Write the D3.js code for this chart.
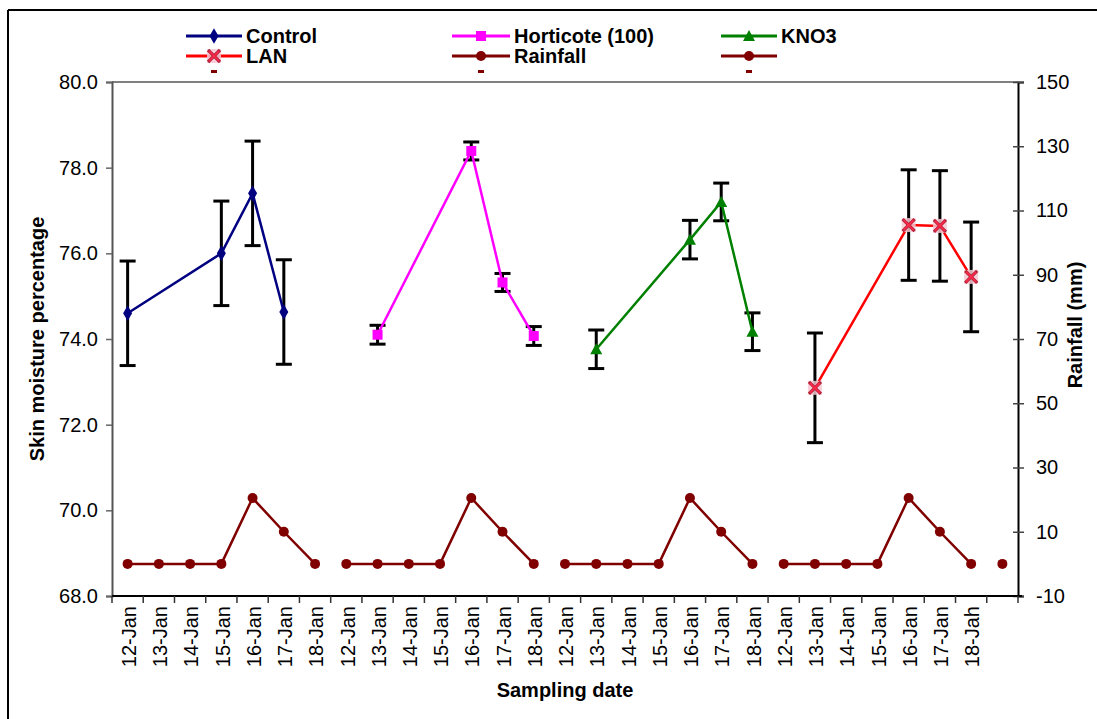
<!DOCTYPE html>
<html>
<head>
<meta charset="utf-8">
<script src="https://cdn.jsdelivr.net/npm/d3@7"></script>
<style>
  html, body { margin: 0; padding: 0; background: #fff; }
  svg { display: block; font-family: "Liberation Sans", Arial, sans-serif; }
</style>
</head>
<body>
<svg id="chart" width="1097" height="719"></svg>
<script>
// Sampling dates along the x axis (four treatment blocks of one week, plus a trailing slot)
const dates = [
  "12-Jan","13-Jan","14-Jan","15-Jan","16-Jan","17-Jan","18-Jan",
  "12-Jan","13-Jan","14-Jan","15-Jan","16-Jan","17-Jan","18-Jan",
  "12-Jan","13-Jan","14-Jan","15-Jan","16-Jan","17-Jan","18-Jan",
  "12-Jan","13-Jan","14-Jan","15-Jan","16-Jan","17-Jan","18-Jah",
  ""
];

// Skin moisture (%) per treatment: slot index, mean, error
const controlSlots = [0, 3, 4, 5];
const controlMean  = [74.6, 76.0, 77.4, 74.63];
const controlErr   = [1.22, 1.22, 1.22, 1.22];

const horticoteSlots = [8, 11, 12, 13];
const horticoteMean  = [74.1, 78.39, 75.32, 74.07];
const horticoteErr   = [0.22, 0.21, 0.21, 0.22];

const kno3Slots = [15, 18, 19, 20];
const kno3Mean  = [73.76, 76.32, 77.2, 74.17];
const kno3Err   = [0.45, 0.45, 0.44, 0.44];

const lanSlots = [22, 25, 26, 27];
const lanMean  = [72.86, 76.66, 76.64, 75.45];
const lanErr   = [1.28, 1.29, 1.29, 1.28];

// Daily rainfall (mm), one value per slot
const rainfall = [
  0, 0, 0, 0, 20.5, 10, 0,
  0, 0, 0, 0, 20.5, 10, 0,
  0, 0, 0, 0, 20.5, 10, 0,
  0, 0, 0, 0, 20.5, 10, 0,
  0
];

const leftTicks  = [68, 70, 72, 74, 76, 78, 80];
const rightTicks = [-10, 10, 30, 50, 70, 90, 110, 130, 150];

const svg = d3.select("#chart");
const W = 1097, H = 719;
const plot = { left: 112, right: 1018, top: 82, bottom: 596 };

// Frame lines on the left and top edges
svg.append("line").attr("x1", 8).attr("x2", 8).attr("y1", 10).attr("y2", H)
  .attr("stroke", "#000").attr("stroke-width", 2);
svg.append("line").attr("x1", 8).attr("x2", W).attr("y1", 10).attr("y2", 10)
  .attr("stroke", "#000").attr("stroke-width", 2);

const x = d3.scaleBand().domain(d3.range(dates.length))
  .range([plot.left, plot.right]).paddingInner(0).paddingOuter(0);
const xc = i => x(i) + x.bandwidth() / 2;
const yL = d3.scaleLinear().domain([68, 80]).range([plot.bottom, plot.top]);
const yR = d3.scaleLinear().domain([-10, 150]).range([plot.bottom, plot.top]);

// Plot area top border
svg.append("line").attr("x1", plot.left).attr("x2", plot.right)
  .attr("y1", plot.top).attr("y2", plot.top)
  .attr("stroke", "#808080").attr("stroke-width", 2);

// Left axis
const gL = svg.append("g").attr("transform", `translate(${plot.left},0)`)
  .call(d3.axisLeft(yL).tickValues(leftTicks).tickFormat(d => d.toFixed(1)).tickSize(6).tickPadding(8));
gL.select(".domain").attr("stroke", "#555").attr("stroke-width", 2);
gL.selectAll(".tick line").attr("stroke", "#666").attr("stroke-width", 1.5);
gL.selectAll(".tick text").attr("font-size", 20).attr("fill", "#000")
  .attr("font-family", "Liberation Sans, Arial, sans-serif");

// Right axis (ticks cross the axis line)
const gR = svg.append("g").attr("transform", `translate(${plot.right},0)`)
  .call(d3.axisRight(yR).tickValues(rightTicks).tickFormat(d => String(d)).tickSize(6).tickPadding(12));
gR.select(".domain").attr("stroke", "#000").attr("stroke-width", 2);
gR.selectAll(".tick line").attr("x1", -5).attr("x2", 6).attr("stroke", "#444").attr("stroke-width", 1.5);
gR.selectAll(".tick text").attr("font-size", 20).attr("fill", "#000")
  .attr("font-family", "Liberation Sans, Arial, sans-serif");

// Bottom axis: tick marks between categories, rotated date labels
const gB = svg.append("g").attr("transform", `translate(0,${plot.bottom})`);
gB.append("line").attr("x1", plot.left).attr("x2", plot.right + 4)
  .attr("stroke", "#000").attr("stroke-width", 2);
gB.selectAll("line.tk").data(d3.range(dates.length + 1)).join("line")
  .attr("class", "tk")
  .attr("x1", i => plot.left + i * x.bandwidth())
  .attr("x2", i => plot.left + i * x.bandwidth())
  .attr("y1", 0).attr("y2", 7)
  .attr("stroke", "#333").attr("stroke-width", 1.5);
gB.selectAll("text").data(dates).join("text")
  .attr("transform", (d, i) => `translate(${xc(i) + 1},10) rotate(-90)`)
  .attr("text-anchor", "end").attr("dy", "0.36em")
  .attr("font-size", 20).attr("fill", "#000")
  .text(d => d);

// Axis titles
svg.append("text").attr("x", plot.left + (plot.right - plot.left) / 2).attr("y", 697)
  .attr("text-anchor", "middle").attr("font-size", 20).attr("font-weight", "bold")
  .text("Sampling date");
svg.append("text")
  .attr("transform", `translate(44,${(plot.top + plot.bottom) / 2}) rotate(-90)`)
  .attr("text-anchor", "middle").attr("font-size", 20).attr("font-weight", "bold")
  .text("Skin moisture percentage");
svg.append("text")
  .attr("transform", `translate(1082,${(plot.top + plot.bottom) / 2 - 14}) rotate(-90)`)
  .attr("text-anchor", "middle").attr("font-size", 20).attr("font-weight", "bold")
  .text("Rainfall (mm)");

// Marker drawing helpers
function marker(g, kind, color, cx, cy) {
  if (kind === "diamond") {
    g.append("path").attr("d", d3.symbol(d3.symbolDiamond, 70)())
      .attr("transform", `translate(${cx},${cy})`).attr("fill", color);
  } else if (kind === "square") {
    g.append("rect").attr("x", cx - 5).attr("y", cy - 5).attr("width", 10).attr("height", 10)
      .attr("fill", color);
  } else if (kind === "triangle") {
    g.append("path").attr("d", `M${cx},${cy - 6}L${cx + 6},${cy + 5}L${cx - 6},${cy + 5}Z`)
      .attr("fill", color);
  } else if (kind === "circle") {
    g.append("circle").attr("cx", cx).attr("cy", cy).attr("r", 5).attr("fill", color);
  } else if (kind === "cross") {
    g.append("rect").attr("x", cx - 7).attr("y", cy - 7).attr("width", 14).attr("height", 14)
      .attr("fill", "#f6c7d2").attr("opacity", 0.85);
    g.append("path").attr("d", `M${cx - 6},${cy - 6}L${cx + 6},${cy + 6}M${cx + 6},${cy - 6}L${cx - 6},${cy + 6}`)
      .attr("stroke", "#b0203a").attr("stroke-width", 3.2);
    g.append("path").attr("d", `M${cx - 5},${cy - 5}L${cx + 5},${cy + 5}M${cx + 5},${cy - 5}L${cx - 5},${cy + 5}`)
      .attr("stroke", "#ff2a4a").attr("stroke-width", 1.6);
  }
}

const treatments = [
  { name: "Control",          slots: controlSlots,   mean: controlMean,   err: controlErr,   color: "#000080", kind: "diamond" },
  { name: "Horticote (100)",  slots: horticoteSlots, mean: horticoteMean, err: horticoteErr, color: "#ff00ff", kind: "square" },
  { name: "KNO3",             slots: kno3Slots,      mean: kno3Mean,      err: kno3Err,      color: "#008000", kind: "triangle" },
  { name: "LAN",              slots: lanSlots,       mean: lanMean,       err: lanErr,       color: "#ff0000", kind: "cross" }
];

const gData = svg.append("g");
const line = d3.line().x(d => xc(d.i)).y(d => yL(d.v));

treatments.forEach(t => {
  const pts = t.slots.map((s, k) => ({ i: s, v: t.mean[k], e: t.err[k] }));
  const g = gData.append("g");
  // error bars
  pts.forEach(p => {
    const cx = xc(p.i);
    g.append("line").attr("x1", cx).attr("x2", cx)
      .attr("y1", yL(p.v - p.e)).attr("y2", yL(p.v + p.e))
      .attr("stroke", "#000").attr("stroke-width", 3);
    [p.v - p.e, p.v + p.e].forEach(v => {
      g.append("line").attr("x1", cx - 8).attr("x2", cx + 8)
        .attr("y1", yL(v)).attr("y2", yL(v))
        .attr("stroke", "#000").attr("stroke-width", 3);
    });
  });
  g.append("path").datum(pts).attr("d", line)
    .attr("fill", "none").attr("stroke", t.color).attr("stroke-width", 2.5);
  pts.forEach(p => marker(g, t.kind, t.color, xc(p.i), yL(p.v)));
});

// Rainfall: one segment per weekly block
const rainPts = rainfall.map((v, i) => ({ i, v, block: Math.floor(i / 7) }));
const rainLine = d3.line().x(d => xc(d.i)).y(d => yR(d.v));
const gRain = gData.append("g");
d3.groups(rainPts, d => d.block).forEach(([, pts]) => {
  gRain.append("path").datum(pts).attr("d", rainLine)
    .attr("fill", "none").attr("stroke", "#800000").attr("stroke-width", 2.5);
});
rainPts.forEach(p => marker(gRain, "circle", "#800000", xc(p.i), yR(p.v)));

// Legend
const legendCols = [186, 452, 721];
const legendItems = [
  { col: 0, row: 0, label: "Control",         color: "#000080", kind: "diamond" },
  { col: 1, row: 0, label: "Horticote (100)", color: "#ff00ff", kind: "square" },
  { col: 2, row: 0, label: "KNO3",            color: "#008000", kind: "triangle" },
  { col: 0, row: 1, label: "LAN",             color: "#ff0000", kind: "cross" },
  { col: 1, row: 1, label: "Rainfall",        color: "#800000", kind: "circle" },
  { col: 2, row: 1, label: "",                color: "#800000", kind: "circle" }
];
const gLeg = svg.append("g");
const rowY = [36, 56];
legendItems.forEach(it => {
  const x0 = legendCols[it.col], y0 = rowY[it.row];
  const len = it.col === 1 ? 58 : 56;
  gLeg.append("line").attr("x1", x0).attr("x2", x0 + len).attr("y1", y0).attr("y2", y0)
    .attr("stroke", it.color).attr("stroke-width", 3);
  marker(gLeg, it.kind, it.color, x0 + len / 2, y0);
  if (it.label) {
    gLeg.append("text").attr("x", x0 + len + 4).attr("y", y0).attr("dy", "0.35em")
      .attr("font-size", 20).attr("font-weight", "bold").text(it.label);
  }
});
// clipped third legend row
legendCols.forEach((c, k) => {
  const len = k === 1 ? 58 : 56;
  gLeg.append("rect").attr("x", c + len / 2 - 3).attr("y", 70).attr("width", 6).attr("height", 3)
    .attr("fill", "#800000");
});
</script>
</body>
</html>
